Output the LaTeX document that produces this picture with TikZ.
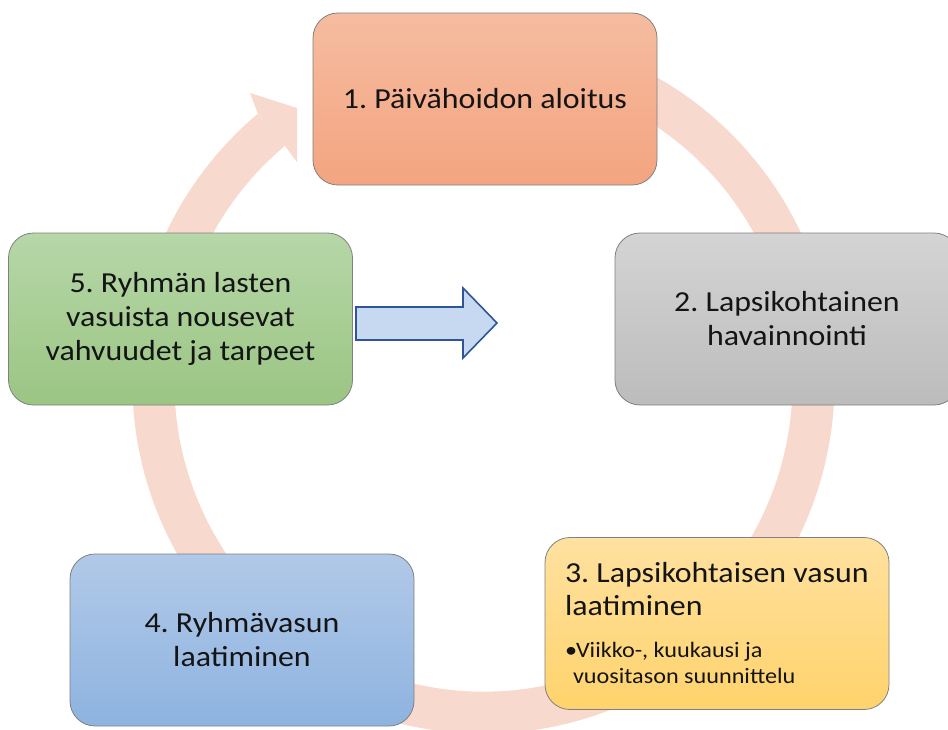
\documentclass[tikz,border=0pt]{standalone}
\usepackage{fontspec}
\usetikzlibrary{calc}
\setmainfont{Carlito}[FakeStretch=1.1]
\definecolor{ringc}{HTML}{F8D9CE}
\definecolor{oT}{HTML}{F5BCA0}\definecolor{oB}{HTML}{F4A480}
\definecolor{gT}{HTML}{D4D4D4}\definecolor{gB}{HTML}{BCBCBC}
\definecolor{yT}{HTML}{FFE1A0}\definecolor{yB}{HTML}{FFD36C}
\definecolor{bT}{HTML}{B1C9E8}\definecolor{bB}{HTML}{8EB3E0}
\definecolor{vT}{HTML}{B6D7A8}\definecolor{vB}{HTML}{9BC583}
\definecolor{arrF}{HTML}{C6D9F0}\definecolor{arrD}{HTML}{2F5597}
\definecolor{txt}{HTML}{141414}
\newcommand\natsp{\frenchspacing\spaceskip=0pt\xspaceskip=0pt\relax}
\begin{document}
\begin{tikzpicture}[x=1pt,y=-1pt,
  stage/.style={draw=black!50,line width=0.8pt,rounded corners=25pt,
    minimum width=344pt,minimum height=172pt,inner sep=0pt,
    text=txt,align=center,font=\fontsize{29}{34}\selectfont},
  ringarc/.style={draw=ringc,line width=42pt},
  ringhead/.style={fill=ringc},
  bigarrow/.style={fill=arrF,draw=arrD,line width=1.6pt,line join=miter}]
\path[use as bounding box] (0,0) rectangle (948,729);
\clip (0,0) rectangle (948,729);
% cycle ring
\coordinate (ctr) at (483.5,382.6);
\draw[ringarc] ($(ctr)+(-75:330)$) arc[start angle=-75,end angle=230,radius=330];
\coordinate (hOn) at (257.9,113.7);
\coordinate (hOb) at (250,93);
\coordinate (hT1) at (297,108);
\coordinate (hT2) at (297,162);
\coordinate (hIn) at (284.6,145.5);
\fill[ringhead] (hOn) -- (hOb) -- (hT1) -- (hT2) -- (hIn) -- cycle;
% stages
\node[stage,top color=oT,bottom color=oB] (s1) at (485,99) {\natsp 1. Päivähoidon aloitus};
\node[stage,top color=gT,bottom color=gB] (s2) at (787,319) {\natsp 2. Lapsikohtainen\\havainnointi};
\node[stage,top color=yT,bottom color=yB,align=left,text width=304pt,inner xsep=20pt] (s3) at (717,623.5)
  {\natsp\fontsize{29}{33}\selectfont 3. Lapsikohtaisen vasun\\laatiminen\par
   \vspace{16pt}\fontsize{22}{26}\selectfont \makebox[11pt][l]{\textbullet}Viikko-, kuukausi ja\\\hspace*{8pt}vuositason suunnittelu\par};
\node[stage,top color=bT,bottom color=bB] (s4) at (242,640) {\natsp 4. Ryhmävasun\\laatiminen};
\node[stage,top color=vT,bottom color=vB] (s5) at (180.5,319) {\natsp 5. Ryhmän lasten\\vasuista nousevat\\vahvuudet ja tarpeet};
% block arrow
\draw[bigarrow] (356,307) -- (463,307) -- (463,288) -- (497,323) -- (463,358) -- (463,340) -- (356,340) -- cycle;
\end{tikzpicture}
\end{document}
